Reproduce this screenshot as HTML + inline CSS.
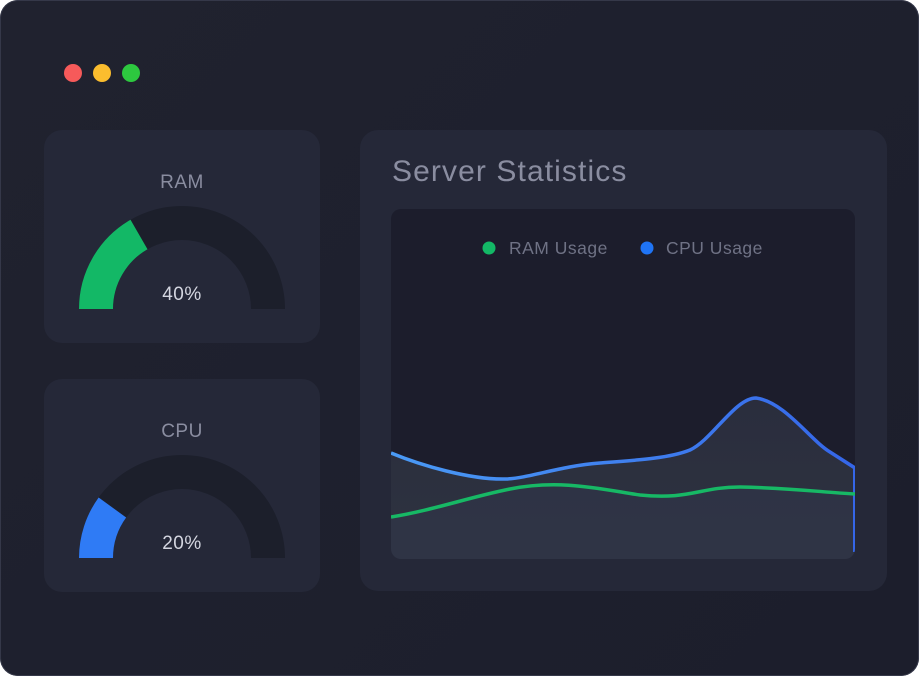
<!DOCTYPE html>
<html><head><style>
html,body{margin:0;padding:0;background:#fff;}
body{width:919px;height:676px;position:relative;overflow:hidden;font-family:"Liberation Sans",sans-serif;}
.win{position:absolute;left:0;top:0;width:919px;height:676px;border-radius:18px;background:linear-gradient(135deg,#20222f,#1c1e2c);box-shadow:inset 0 0 0 1px #353849;}
.dot{position:absolute;top:64px;width:18px;height:18px;border-radius:50%;}
.card{position:absolute;background:#252838;border-radius:18px;}
.lbl{position:absolute;width:100%;text-align:center;color:#8a8da0;font-size:19px;letter-spacing:0.5px;}
.pct{position:absolute;width:100%;text-align:center;color:#d4d6e0;font-size:19px;letter-spacing:0.5px;}
</style></head><body>
<div class="win">
<div class="dot" style="left:64px;background:#f65a5a"></div>
<div class="dot" style="left:93px;background:#fbbd2e"></div>
<div class="dot" style="left:122px;background:#2dc83f"></div>

<div class="card" style="left:44px;top:130px;width:276px;height:213px">
<div class="lbl" style="top:42px">RAM</div>
<svg style="position:absolute;left:0;top:0" width="276" height="213">
<path d="M52 179 A86 86 0 0 1 224 179" fill="none" stroke="#1c1f2b" stroke-width="34"/>
<path d="M52 179 A86 86 0 0 1 95 104.5" fill="none" stroke="#13b866" stroke-width="34"/>
</svg>
<div class="pct" style="top:154px">40%</div>
</div>

<div class="card" style="left:44px;top:379px;width:276px;height:213px">
<div class="lbl" style="top:42px">CPU</div>
<svg style="position:absolute;left:0;top:0" width="276" height="213">
<path d="M52 179 A86 86 0 0 1 224 179" fill="none" stroke="#1c1f2b" stroke-width="34"/>
<path d="M52 179 A86 86 0 0 1 68.4 128.5" fill="none" stroke="#2f7bf5" stroke-width="34"/>
</svg>
<div class="pct" style="top:154px">20%</div>
</div>

<div class="card" style="left:360px;top:130px;width:527px;height:461px">
<div style="position:absolute;left:32px;top:25px;color:#8a8da0;font-size:30px;letter-spacing:1.1px">Server Statistics</div>
</div>

<svg style="position:absolute;left:0;top:0" width="919" height="676">
<defs>
<clipPath id="c"><rect x="391" y="209" width="464" height="350" rx="10"/></clipPath>
<linearGradient id="g" x1="0" y1="0" x2="0" y2="1"><stop offset="0" stop-color="#2a2d3d"/><stop offset="1" stop-color="#2e3340"/></linearGradient>
<linearGradient id="bl" x1="0" y1="0" x2="1" y2="0"><stop offset="0" stop-color="#4a9af5"/><stop offset="1" stop-color="#3566e8"/></linearGradient>
</defs>
<g clip-path="url(#c)">
<rect x="391" y="209" width="464" height="350" fill="#1c1d2c"/>
<path d="M391 453 C420 465 470 480 506 479 C530 478 560 466 600 463 C640 460 670 458 690 450 C712 440 735 398 756 398 C785 402 810 440 830 452 L855 468 L855 560 L391 560Z" fill="url(#g)"/>
<path d="M391 517 C430 511 470 497 510 489 C560 479 600 489 640 495 C690 500 700 487 740 487 C790 488 820 492 855 494 L855 560 L391 560Z" fill="#30364a" opacity="0.6"/>
<path d="M391 453 C420 465 470 480 506 479 C530 478 560 466 600 463 C640 460 670 458 690 450 C712 440 735 398 756 398 C785 402 810 440 830 452 L855 468" fill="none" stroke="url(#bl)" stroke-width="3.5"/>
<line x1="854" y1="468" x2="854" y2="552" stroke="#3566e8" stroke-width="2"/>
<path d="M391 517 C430 511 470 497 510 489 C560 479 600 489 640 495 C690 500 700 487 740 487 C790 488 820 492 855 494" fill="none" stroke="#17b865" stroke-width="3.5"/>
</g>
<circle cx="489" cy="248" r="6.5" fill="#13b866"/>
<text x="509" y="254" fill="#6f7285" font-size="17.5" letter-spacing="0.5" font-family="Liberation Sans, sans-serif">RAM Usage</text>
<circle cx="647" cy="248" r="6.5" fill="#1f74f5"/>
<text x="666" y="254" fill="#6f7285" font-size="17.5" letter-spacing="0.5" font-family="Liberation Sans, sans-serif">CPU Usage</text>
</svg>
</div>
</body></html>
